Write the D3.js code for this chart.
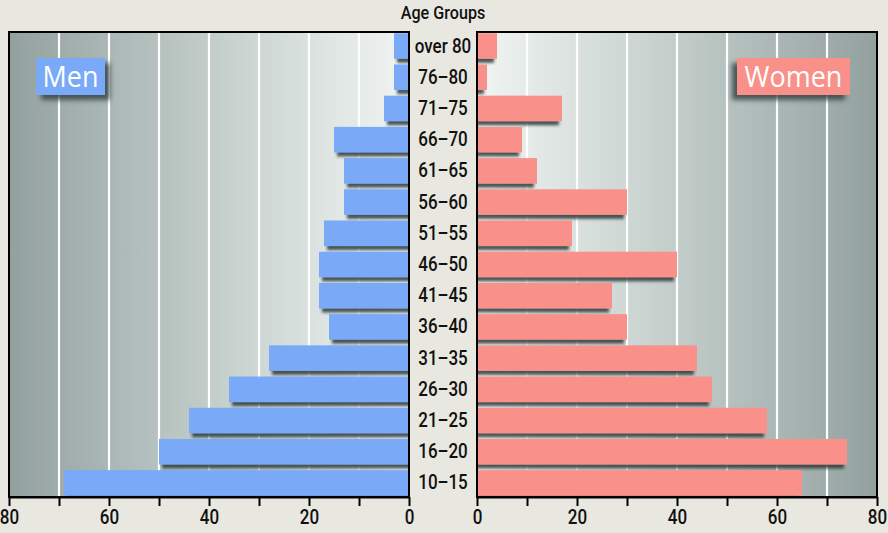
<!DOCTYPE html>
<html>
<head>
<meta charset="utf-8">
<script src="https://cdn.jsdelivr.net/npm/d3@7/dist/d3.min.js"></script>
<style>
  body { margin: 0; background: #e9e8e0; }
  svg { display: block; }
  .narrow { font-family: Roboto, "Liberation Sans", sans-serif; }
  .axis text { font-family: Roboto, "Liberation Sans", sans-serif; font-size: 20px; font-weight: 500; fill: #111; }
  .axis line, .axis path { stroke: #000; stroke-width: 2px; }
</style>
</head>
<body>
<div id="chart"></div>
<script>
var ageGroups = ['over 80', '76–80', '71–75', '66–70', '61–65', '56–60', '51–55', '46–50',
  '41–45', '36–40', '31–35', '26–30', '21–25', '16–20', '10–15'];
var menValues = [3, 3, 5, 15, 13, 13, 17, 18, 18, 16, 28, 36, 44, 50, 69];
var womenValues = [4, 2, 17, 9, 12, 30, 19, 40, 27, 30, 44, 47, 58, 74, 65];
var tickValues = [0, 10, 20, 30, 40, 50, 60, 70, 80];
var labelTicks = [0, 20, 40, 60, 80];

var width = 888, height = 533;
var plotTop = 32, plotBottom = 497;

var svg = d3.select('#chart').append('svg')
  .attr('width', width).attr('height', height);

var defs = svg.append('defs');

// panel backgrounds: dark at the outer edge, light near the labels
function panelGradient(id, x1, x2) {
  var g = defs.append('linearGradient').attr('id', id)
    .attr('x1', x1).attr('x2', x2).attr('y1', '0').attr('y2', '0');
  g.append('stop').attr('offset', '0%').attr('stop-color', '#93a19e');
  g.append('stop').attr('offset', '50%').attr('stop-color', '#c2cdca');
  g.append('stop').attr('offset', '100%').attr('stop-color', '#f1f5f3');
}
panelGradient('gradMen', '0', '1');
panelGradient('gradWomen', '1', '0');

function shadow(id, dx, dy, blur, op) {
  defs.append('filter').attr('id', id)
    .attr('x', '-20%').attr('y', '-30%').attr('width', '140%').attr('height', '170%')
    .append('feDropShadow')
    .attr('dx', dx).attr('dy', dy).attr('stdDeviation', blur)
    .attr('flood-color', '#2c3b3b').attr('flood-opacity', op);
}
shadow('shadowMen', 3, 4, 1.5, 0.85);
shadow('shadowWomen', -3, 4, 1.5, 0.85);
shadow('boxMen', 5, 5, 2.5, 0.8);
shadow('boxWomen', -5, 5, 2.5, 0.8);

var xMen = d3.scaleLinear().domain([0, 80]).range([409, 9]);
var xWomen = d3.scaleLinear().domain([0, 80]).range([477, 877]);
var y = d3.scaleBand().domain(ageGroups).range([plotTop, plotBottom])
  .paddingInner(0.18).paddingOuter(0.04);

defs.append('clipPath').attr('id', 'clipMen').append('rect')
  .attr('x', xMen(80)).attr('y', plotTop).attr('width', xMen(0) - xMen(80)).attr('height', plotBottom - plotTop);
defs.append('clipPath').attr('id', 'clipWomen').append('rect')
  .attr('x', xWomen(0)).attr('y', plotTop).attr('width', xWomen(80) - xWomen(0)).attr('height', plotBottom - plotTop);

function drawPanel(x, values, grad, color, filt, clip) {
  var x0 = Math.min(x(0), x(80)), x1 = Math.max(x(0), x(80));
  var panel = svg.append('g');
  panel.append('rect')
    .attr('x', x0).attr('y', plotTop).attr('width', x1 - x0).attr('height', plotBottom - plotTop)
    .attr('fill', 'url(#' + grad + ')');
  // gridlines
  panel.selectAll('.grid').data(tickValues.slice(1, -1)).enter().append('line')
    .attr('x1', function (d) { return x(d); }).attr('x2', function (d) { return x(d); })
    .attr('y1', plotTop).attr('y2', plotBottom)
    .attr('stroke', '#fff').attr('stroke-width', 2.2);
  // bars
  panel.append('g').attr('clip-path', 'url(#' + clip + ')')
    .selectAll('rect').data(values).enter().append('rect')
    .attr('x', function (d) { return Math.min(x(0), x(d)); })
    .attr('y', function (d, i) { return y(ageGroups[i]); })
    .attr('width', function (d) { return Math.abs(x(d) - x(0)); })
    .attr('height', y.bandwidth())
    .attr('fill', color)
    .attr('filter', 'url(#' + filt + ')');
  // frame
  panel.append('rect')
    .attr('x', x0).attr('y', plotTop).attr('width', x1 - x0).attr('height', plotBottom - plotTop)
    .attr('fill', 'none').attr('stroke', '#000').attr('stroke-width', 2);
  // axis
  var axis = svg.append('g').attr('class', 'axis')
    .attr('transform', 'translate(0,' + plotBottom + ')')
    .call(d3.axisBottom(x).tickValues(tickValues).tickSize(9).tickSizeOuter(0).tickPadding(4)
      .tickFormat(function (d) { return labelTicks.indexOf(d) >= 0 ? d : ''; }));
  axis.selectAll('text').attr('transform', 'scale(0.85,1)');
}

drawPanel(xMen, menValues, 'gradMen', '#79a9f7', 'shadowMen', 'clipMen');
drawPanel(xWomen, womenValues, 'gradWomen', '#f9918a', 'shadowWomen', 'clipWomen');

// age group labels
svg.append('g').selectAll('text').data(ageGroups).enter().append('text')
  .attr('class', 'narrow')
  .attr('transform', function (d) {
    return 'translate(443,' + (y(d) + y.bandwidth() / 2) + ') scale(0.85,1)';
  })
  .attr('text-anchor', 'middle').attr('dominant-baseline', 'central')
  .attr('font-size', 20).attr('font-weight', 500).attr('fill', '#111')
  .text(function (d) { return d; });

svg.append('text').attr('class', 'narrow')
  .attr('transform', 'translate(443,19) scale(0.85,1)')
  .attr('text-anchor', 'middle')
  .attr('font-size', 19).attr('font-weight', 500).attr('fill', '#111')
  .text('Age Groups');

// legend boxes
function legendBox(x, w, label, color, filt) {
  var g = svg.append('g');
  g.append('rect').attr('x', x).attr('y', 58).attr('width', w).attr('height', 37)
    .attr('fill', color).attr('filter', 'url(#' + filt + ')');
  g.append('text')
    .attr('transform', 'translate(' + (x + w / 2) + ',87) scale(0.93,1)')
    .attr('text-anchor', 'middle')
    .attr('font-family', '"Open Sans", "Noto Sans", sans-serif')
    .attr('font-size', 29).attr('fill', '#fff')
    .text(label);
}
legendBox(36, 69, 'Men', '#79a9f7', 'boxMen');
legendBox(737, 113, 'Women', '#f9918a', 'boxWomen');
</script>
</body>
</html>
